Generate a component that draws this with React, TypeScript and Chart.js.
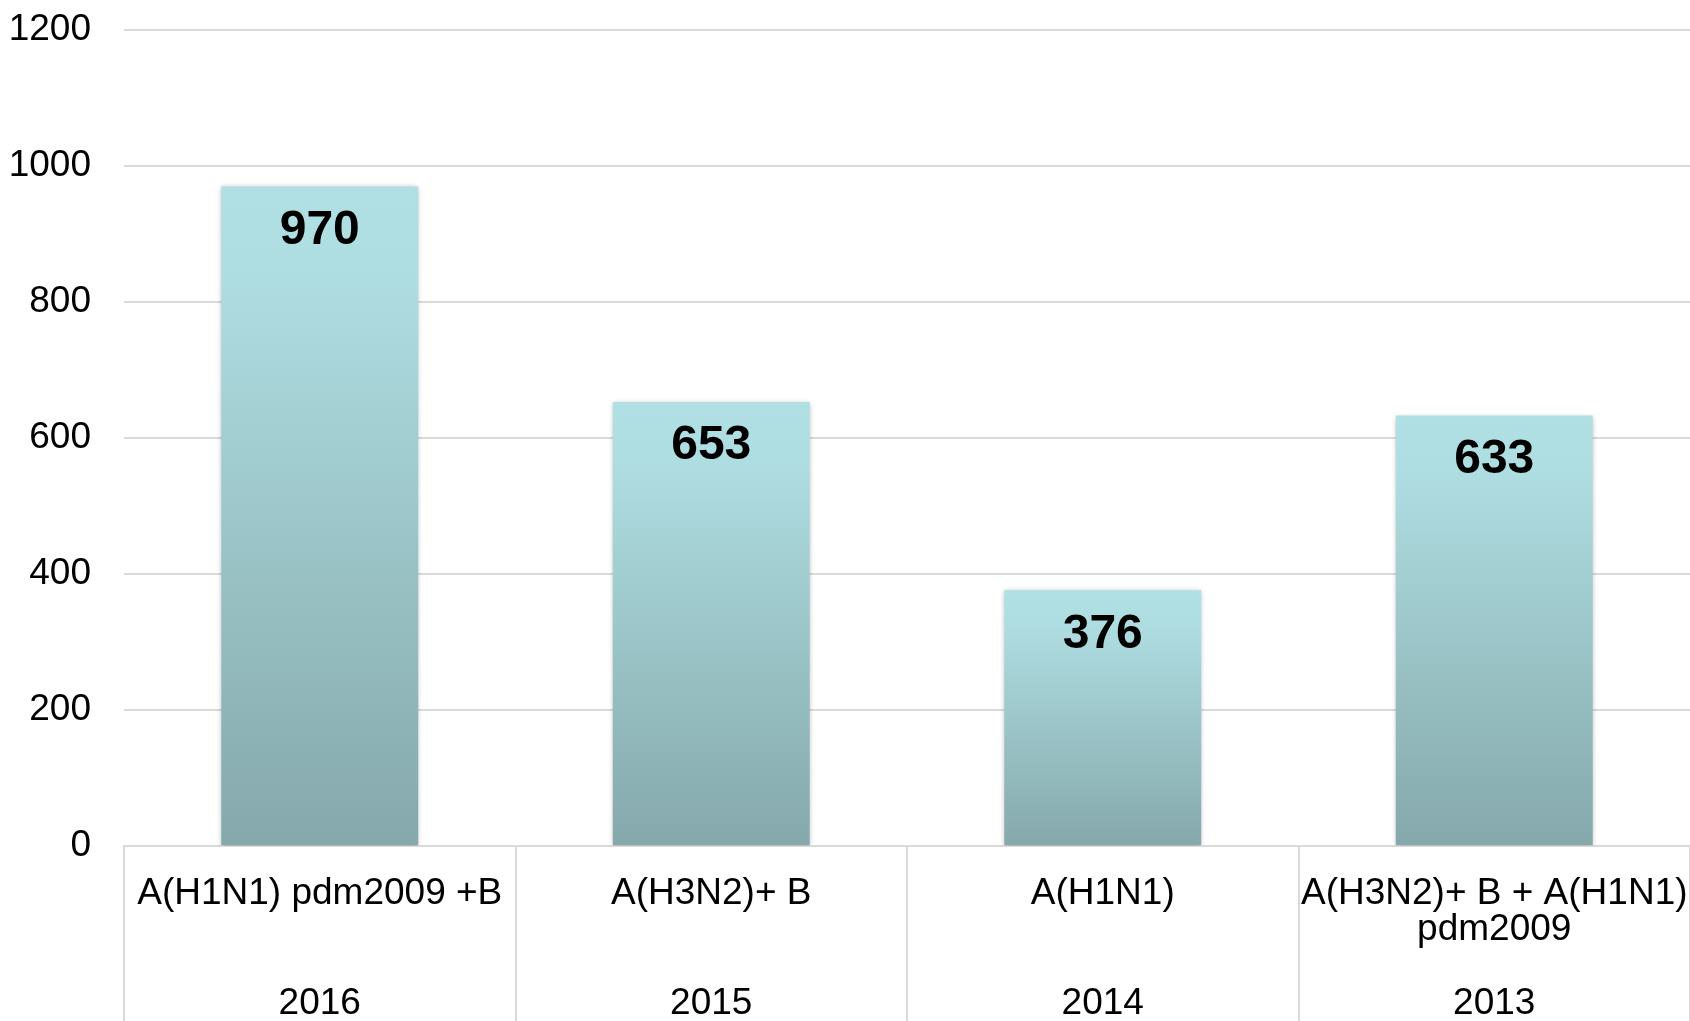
import React, { useEffect, useRef } from "react";
import { Chart, registerables } from "chart.js";

Chart.register(...registerables);

const strains: string[][] = [
  ["A(H1N1) pdm2009 +B", ""],
  ["A(H3N2)+ B", ""],
  ["A(H1N1)", ""],
  ["A(H3N2)+ B + A(H1N1)", "pdm2009"],
];
const years: string[] = ["2016", "2015", "2014", "2013"];
const cases: number[] = [970, 653, 376, 633];
const yTicks: number[] = [0, 200, 400, 600, 800, 1000, 1200];

const FONT = "'Liberation Sans', Arial, Helvetica, sans-serif";
const GRID = "#dadada";

const valueLabels = {
  id: "valueLabels",
  afterDatasetsDraw(chart: any) {
    const ctx = chart.ctx;
    const meta = chart.getDatasetMeta(0);
    ctx.save();
    ctx.font = `bold 48px ${FONT}`;
    ctx.fillStyle = "#000";
    ctx.textAlign = "center";
    ctx.textBaseline = "middle";
    meta.data.forEach((bar: any, i: number) => {
      ctx.fillText(String(cases[i]), bar.x, bar.y + 44);
    });
    ctx.restore();
  },
};

const barShadow = {
  id: "barShadow",
  beforeDatasetsDraw(chart: any) {
    const ctx = chart.ctx;
    ctx.save();
    ctx.shadowColor = "rgba(0,0,0,0.28)";
    ctx.shadowBlur = 5;
    ctx.shadowOffsetX = 0;
    ctx.shadowOffsetY = 1;
  },
  afterDatasetsDraw(chart: any) {
    chart.ctx.restore();
  },
};

export default function App() {
  const ref = useRef<HTMLCanvasElement | null>(null);

  useEffect(() => {
    if (!ref.current) return;
    const chart = new Chart(ref.current, {
      type: "bar",
      data: {
        labels: strains.map((s, i) => [s[0], s[1], "", years[i]]),
        datasets: [
          {
            data: cases,
            backgroundColor: (c: any) => {
              const ch = c.chart;
              const y = ch.scales && ch.scales.y;
              if (!ch.chartArea || !y || c.dataIndex === undefined) return "#a0c8cc";
              const v = cases[c.dataIndex];
              const top = y.getPixelForValue(v);
              const bottom = y.getPixelForValue(0);
              if (!isFinite(top) || !isFinite(bottom) || top === bottom) return "#a0c8cc";
              const g = ch.ctx.createLinearGradient(0, top, 0, bottom);
              g.addColorStop(0, "#b1e0e4");
              g.addColorStop(0.12, "#afdee2");
              g.addColorStop(1, "#85a8ab");
              return g;
            },
            borderWidth: 0,
            barPercentage: 0.503,
            categoryPercentage: 1,
          },
        ],
      },
      options: {
        responsive: false,
        animation: false,
        devicePixelRatio: 1,
        layout: { padding: { top: 30, left: 0, right: 0, bottom: 0 } },
        plugins: {
          legend: { display: false },
          tooltip: { enabled: false },
          title: { display: false },
        },
        scales: {
          x: {
            grid: {
              display: true,
              drawOnChartArea: false,
              drawTicks: true,
              tickLength: 175,
              color: GRID,
              lineWidth: 2,
              offset: true,
            },
            border: { display: true, color: GRID, width: 2 },
            ticks: {
              autoSkip: false,
              maxRotation: 0,
              minRotation: 0,
              padding: -146,
              color: "#000",
              font: { family: FONT, size: 37, lineHeight: 0.995 },
            },
            afterFit: (s: any) => {
              s.height = 175;
            },
          },
          y: {
            min: 0,
            max: 1200,
            afterBuildTicks: (s: any) => {
              s.ticks = yTicks.map((v) => ({ value: v }));
            },
            grid: {
              color: GRID,
              lineWidth: 2,
              drawTicks: true,
              tickLength: 26,
              tickColor: "rgba(0,0,0,0)",
            },
            border: { display: false },
            ticks: {
              padding: 7,
              color: "#000",
              font: { family: FONT, size: 37 },
              callback: (v: any) => String(v),
            },
            afterFit: (s: any) => {
              s.width = 124;
            },
          },
        },
      },
      plugins: [barShadow, valueLabels],
    });
    chart.update();
    return () => chart.destroy();
  }, []);

  return (
    <div style={{ position: "fixed", left: 0, top: 0, width: 1690, height: 1021, background: "#fff" }}>
      <canvas ref={ref} width={1690} height={1021} style={{ display: "block" }} />
    </div>
  );
}
